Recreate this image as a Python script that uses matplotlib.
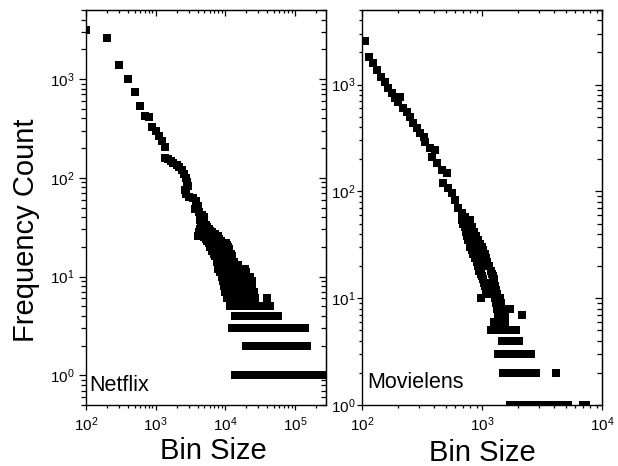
import matplotlib
matplotlib.use('Agg')
import matplotlib.pyplot as plt
from matplotlib.ticker import NullFormatter

plt.rcParams['font.family'] = ['Liberation Sans', 'DejaVu Sans']

# Netflix: upper part of the curve (bin size, frequency count)
nf_head_x = [100, 200, 300, 400, 500, 600, 700, 800, 900, 1000, 1100, 1250, 1380,
             1350, 1500, 1650, 1800, 2000, 2200, 2400, 2550, 2700, 2800, 2900, 2600,
             2700, 3000, 3400, 3800, 4000, 3700, 4200, 4600, 4900, 4300, 4700, 5300]
nf_head_y = [3150, 2600, 1390, 1000, 740, 530, 420, 410, 330, 300, 265, 235, 205,
             160, 155, 148, 140, 135, 130, 120, 110, 100, 90, 82, 75,
             68, 64, 62, 58, 52, 48, 45, 42, 40, 37, 35, 33]

# Netflix: lower part, one list of bin sizes per frequency count
nf_counts = [32, 30, 29, 28, 27, 26, 25, 24, 23, 22, 21, 20, 19, 18, 17, 16, 15, 14,
             13, 12, 11, 10, 9, 8, 7, 6, 5, 4, 3, 2, 1]
nf_bins = [
    [4500, 5400],
    [4300, 5000, 5800],
    [4600, 6100],
    [4200, 5300, 6400],
    [4900, 5600, 7200],
    [4100, 5200, 6100, 7800],
    [5000, 5800, 6700, 8000],
    [5300, 6200, 7100, 8200],
    [5500, 6400, 7400, 8600],
    [5800, 6700, 7800, 9000, 10200],
    [6000, 7000, 8100, 9300, 10500],
    [6100, 7000, 8000, 9200, 10600, 11000],
    [6700, 7700, 8800, 10100, 11200],
    [6500, 7500, 8600, 9900, 11400],
    [7000, 8000, 9200, 10500, 12000],
    [7200, 8300, 9500, 10900, 12500],
    [7500, 8600, 9900, 11300, 12600],
    [7600, 8800, 10100, 11600, 13200],
    [7800, 9000, 10300, 11800, 13500, 15200],
    [8000, 9200, 10600, 12200, 14000, 16000, 19500],
    [8500, 9800, 11200, 12900, 14800, 17000, 19800],
    [9000, 10300, 11800, 13600, 15600, 17900, 20500, 22500],
    [9200, 10600, 12200, 14000, 16100, 18500, 21200, 24000],
    [9500, 10900, 12500, 14400, 16600, 19000, 21800, 24500],
    [10000, 11500, 13200, 15200, 17500, 20100, 23000, 26000],
    [10500, 12100, 13900, 16000, 18400, 21100, 24300, 27000, 40000],
    [11700, 13400, 15400, 17700, 20300, 23400, 26900, 30900, 35500, 40800, 44600],
    [14000, 16100, 18500, 21300, 24500, 28100, 32300, 37200, 42700, 49100, 58000],
    [12400, 14300, 16400, 18900, 21700, 25000, 28700, 33000, 38000, 43700, 50200,
     57800, 66400, 76400, 87800, 101000, 116000, 128000, 142000],
    [19600, 22500, 25900, 29800, 34300, 39400, 45300, 52100, 59900, 68900, 79300,
     91200, 105000, 120000, 135000, 150000],
    [13700, 15800, 18100, 20800, 24000, 27600, 31700, 36500, 41900, 48200, 55500,
     63800, 73300, 84300, 97000, 112000, 128000, 147000, 169000, 195000, 224000, 262000],
]

# Movielens: upper part of the curve
ml_head_x = [106, 114, 123, 133, 144, 155, 165, 178, 188, 207, 200, 220, 237, 251,
             266, 287, 304, 329, 335, 369, 406, 383, 422, 464, 510, 473, 520, 561,
             595, 630, 680, 720]
ml_head_y = [2550, 1830, 1610, 1380, 1190, 1070, 940, 840, 755, 770, 690, 610, 560, 500,
             440, 395, 355, 320, 290, 257, 245, 211, 186, 160, 150, 121, 108, 97,
             84, 70, 63, 57]

# Movielens: lower part, one list of bin sizes per frequency count
ml_counts = [54, 50, 46, 42, 38, 35, 32, 30, 28, 26, 24, 22, 20, 18, 17, 16, 15, 14,
             13, 12, 11, 10, 9, 8, 7, 6, 5, 4, 3, 2, 1]
ml_bins = [
    [680, 790],
    [700, 800],
    [720, 830],
    [740, 860],
    [750, 820, 890],
    [770, 920],
    [790, 870, 960],
    [800, 1000],
    [820, 920, 1020],
    [840, 1050],
    [870, 970, 1080],
    [900, 1110],
    [920, 1030, 1150],
    [950, 1190],
    [980, 1200],
    [1000, 1230],
    [1020, 1250],
    [1030, 1140, 1270],
    [1050, 1290],
    [1070, 1180, 1300],
    [1150, 1330],
    [980, 1280, 1400],
    [1300, 1450],
    [1330, 1500, 1710],
    [1350, 1550, 2150],
    [1250, 1400, 1540],
    [1190, 1300, 1430, 1570, 1730, 1920],
    [1470, 1600, 1760, 1900, 2050],
    [1370, 1500, 1650, 1820, 2000, 2200, 2400, 2570],
    [1510, 1660, 1830, 2000, 2200, 2420, 2650, 2840, 4140],
    [1710, 1880, 2070, 2280, 2500, 2750, 3030, 3330, 3660, 4020, 4420, 4870, 5240,
     6900, 7400],
]


def flatten(head_x, head_y, counts, bins):
    xs = list(head_x)
    ys = list(head_y)
    for c, row in zip(counts, bins):
        xs += row
        ys += [c] * len(row)
    return xs, ys


def style_axes(ax, ylen, ypad):
    ax.set_xscale('log')
    ax.set_yscale('log')
    ax.xaxis.set_minor_formatter(NullFormatter())
    ax.yaxis.set_minor_formatter(NullFormatter())
    ax.tick_params(which='both', direction='out', labelsize=11, width=0.9)
    ax.tick_params(axis='x', which='major', length=3.6, pad=4)
    ax.tick_params(axis='x', which='minor', length=2.2)
    ax.tick_params(axis='y', which='major', length=ylen, pad=ypad)
    ax.tick_params(axis='y', which='minor', length=ylen * 0.65)
    for sp in ax.spines.values():
        sp.set_linewidth(1.0)
    top = ax.secondary_xaxis('top')
    top.tick_params(which='both', direction='in', labeltop=False, width=0.9)
    top.tick_params(which='major', length=4)
    top.tick_params(which='minor', length=2.3)
    right = ax.secondary_yaxis('right')
    right.tick_params(which='both', direction='in', labelright=False, width=0.9)
    right.tick_params(which='major', length=5)
    right.tick_params(which='minor', length=3.3)


fig = plt.figure(figsize=(6.18, 4.66), dpi=100)
ax1 = fig.add_axes([86 / 618, 61 / 466, 240 / 618, 395 / 466])
ax2 = fig.add_axes([362 / 618, 61 / 466, 240 / 618, 395 / 466])

nx, ny = flatten(nf_head_x, nf_head_y, nf_counts, nf_bins)
mx, my = flatten(ml_head_x, ml_head_y, ml_counts, ml_bins)

ax1.plot(nx, ny, 's', color='black', ms=5.2, mew=0, linestyle='none')
ax2.plot(mx, my, 's', color='black', ms=5.2, mew=0, linestyle='none')

ax1.set_xlim(100, 2.8e5)
ax1.set_ylim(0.5, 5000)
ax2.set_xlim(100, 1e4)
ax2.set_ylim(1, 5000)

style_axes(ax1, 5, 3)
style_axes(ax2, 3.6, 1)

ax1.text(0.015, 0.035, 'Netflix', transform=ax1.transAxes, fontsize=15.5, va='baseline')
ax2.text(0.02, 0.043, 'Movielens', transform=ax2.transAxes, fontsize=15.5, va='baseline')

ax1.set_xlabel('Bin Size', fontsize=21)
ax1.xaxis.set_label_coords(0.53, -0.136)
ax1.xaxis.label.set_verticalalignment('baseline')
ax2.set_xlabel('Bin Size', fontsize=21)
ax2.xaxis.set_label_coords(0.5, -0.141)
ax2.xaxis.label.set_verticalalignment('baseline')

fig.text(26 / 618, 1 - 230 / 466, 'Frequency Count', rotation=90,
         ha='center', va='center', fontsize=21)

plt.savefig('out.png', dpi=100)
plt.close()
